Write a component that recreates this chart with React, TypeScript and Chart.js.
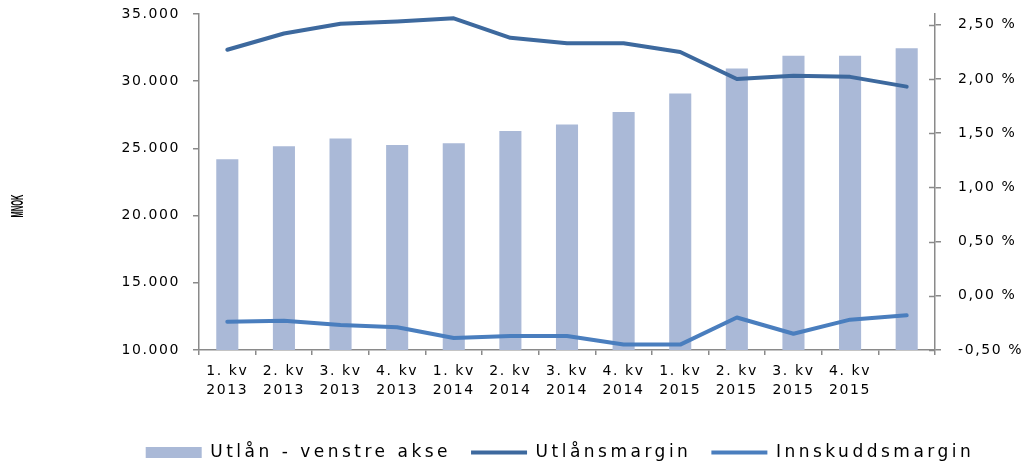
import { useEffect, useRef } from 'react';
import { Chart, registerables } from 'chart.js';

Chart.register(...registerables);

// ---------- data ----------
const categories: (string | string[])[] = [
  ['1. kv', '2013'], ['2. kv', '2013'], ['3. kv', '2013'], ['4. kv', '2013'],
  ['1. kv', '2014'], ['2. kv', '2014'], ['3. kv', '2014'], ['4. kv', '2014'],
  ['1. kv', '2015'], ['2. kv', '2015'], ['3. kv', '2015'], ['4. kv', '2015'],
  '',
];
const seriesNames = ['Utlån - venstre akse', 'Utlånsmargin', 'Innskuddsmargin'];
const utlan = [24190, 25160, 25730, 25250, 25380, 26290, 26770, 27700, 29090, 30950, 31890, 31890, 32460];
const utlansmargin = [2.27, 2.42, 2.51, 2.53, 2.56, 2.38, 2.33, 2.33, 2.25, 2.0, 2.03, 2.02, 1.93];
const innskuddsmargin = [-0.24, -0.23, -0.27, -0.29, -0.39, -0.37, -0.37, -0.45, -0.45, -0.2, -0.35, -0.22, -0.18];
const leftTicks = [10000, 15000, 20000, 25000, 30000, 35000];
const rightTicks = [-0.5, 0, 0.5, 1, 1.5, 2, 2.5];
const leftTitle = 'MNOK';

// ---------- styles ----------
const BAR = '#AAB9D7';
const DARK = '#3D699E';
const LIGHT = '#4A7EBE';
const AXIS = '#8A8A8A';
const FAMILY = '"DejaVu Sans", sans-serif';

const fmtLeft = (v: number) => String(Math.round(v)).replace(/\B(?=(\d{3})+(?!\d))/g, '.');
const fmtRight = (v: number) => {
  const x = Math.abs(v) < 1e-9 ? 0 : v;
  return x.toFixed(2).replace('.', ',') + ' %';
};

const zeroPad = (s: any) => {
  s.paddingTop = 0;
  s.paddingBottom = 0;
  s.paddingLeft = 0;
  s.paddingRight = 0;
};

const extras = {
  id: 'extras',
  beforeDraw(chart: any) {
    chart.ctx.letterSpacing = '1.6px';
  },
  afterDraw(chart: any) {
    const ctx = chart.ctx;
    const y1 = chart.scales.y1;
    ctx.save();
    ctx.strokeStyle = AXIS;
    ctx.lineWidth = 1.5;
    y1.ticks.forEach((t: any) => {
      const py = Math.round(y1.getPixelForValue(t.value)) + 0.5;
      ctx.beginPath();
      ctx.moveTo(y1.left - 6, py);
      ctx.lineTo(y1.left, py);
      ctx.stroke();
    });
    ctx.letterSpacing = '0px';
    ctx.font = 'bold 16px "Liberation Sans", "DejaVu Sans", sans-serif';
    ctx.fillStyle = '#000';
    ctx.textAlign = 'center';
    ctx.textBaseline = 'middle';
    const w = ctx.measureText(leftTitle).width;
    ctx.translate(18.5, 206);
    ctx.rotate(-Math.PI / 2);
    ctx.scale(23 / w, 1);
    ctx.fillText(leftTitle, 0, 0);
    ctx.restore();
  },
};

export default function App() {
  const ref = useRef<HTMLCanvasElement>(null);
  useEffect(() => {
    const chart = new Chart(ref.current as HTMLCanvasElement, {
      type: 'bar',
      data: {
        labels: categories as any,
        datasets: [
          {
            type: 'bar',
            label: seriesNames[0],
            data: utlan,
            backgroundColor: BAR,
            borderWidth: 0,
            yAxisID: 'y',
            order: 3,
            barPercentage: 0.39,
            categoryPercentage: 1,
            pointStyle: 'rect',
          } as any,
          {
            type: 'line',
            label: seriesNames[1],
            data: utlansmargin,
            borderColor: DARK,
            backgroundColor: DARK,
            borderWidth: 4,
            pointRadius: 0,
            pointHoverRadius: 0,
            tension: 0,
            borderCapStyle: 'round',
            borderJoinStyle: 'round',
            yAxisID: 'y1',
            order: 1,
            pointStyle: 'line',
          } as any,
          {
            type: 'line',
            label: seriesNames[2],
            data: innskuddsmargin,
            borderColor: LIGHT,
            backgroundColor: LIGHT,
            borderWidth: 4,
            pointRadius: 0,
            pointHoverRadius: 0,
            tension: 0,
            borderCapStyle: 'round',
            borderJoinStyle: 'round',
            yAxisID: 'y1',
            order: 2,
            pointStyle: 'line',
          } as any,
        ],
      },
      options: {
        responsive: false,
        animation: false,
        devicePixelRatio: 1,
        font: { family: FAMILY },
        color: '#000',
        layout: { padding: { left: 96, right: 0, top: 14, bottom: -5 } },
        plugins: {
          tooltip: { enabled: false },
          legend: {
            position: 'bottom',
            align: 'center',
            labels: {
              usePointStyle: true,
              pointStyleWidth: 56,
              boxHeight: 11,
              padding: 20,
              color: '#000',
              font: { size: 17, family: FAMILY },
              sort: (a: any, b: any) => a.datasetIndex - b.datasetIndex,
            },
          },
        },
        scales: {
          x: {
            offset: true,
            grid: {
              display: true,
              drawOnChartArea: false,
              drawTicks: true,
              tickLength: 5,
              color: AXIS,
              lineWidth: 1.5,
              offset: true,
            },
            border: { display: true, color: AXIS, width: 1.5 },
            ticks: {
              autoSkip: false,
              maxRotation: 0,
              minRotation: 0,
              padding: 7,
              color: '#000',
              font: { size: 14, family: FAMILY, lineHeight: 1.36 },
            },
            afterFit(s: any) {
              s.height = 74;
              zeroPad(s);
            },
          },
          y: {
            position: 'left',
            min: 10000,
            max: 35000,
            grid: { drawOnChartArea: false, tickLength: 6, color: AXIS, lineWidth: 1.5 },
            border: { display: true, color: AXIS, width: 1.5 },
            ticks: {
              padding: 13,
              color: '#000',
              font: { size: 14, family: FAMILY },
              callback: (v: any) => fmtLeft(Number(v)),
            },
            afterBuildTicks(s: any) {
              s.ticks = leftTicks.map((v) => ({ value: v }));
            },
            afterFit(s: any) {
              s.width = 103;
              zeroPad(s);
            },
          },
          y1: {
            position: 'right',
            min: -0.5,
            max: 2.6,
            grid: { drawOnChartArea: false, tickLength: 6, color: AXIS, lineWidth: 1.5 },
            border: { display: true, color: AXIS, width: 1.5 },
            ticks: {
              padding: 17,
              color: '#000',
              font: { size: 14, family: FAMILY },
              callback: (v: any) => fmtRight(Number(v)),
            },
            afterBuildTicks(s: any) {
              s.ticks = rightTicks.map((v) => ({ value: v }));
            },
            afterFit(s: any) {
              s.width = 89;
              zeroPad(s);
            },
          },
        },
      } as any,
      plugins: [extras],
    });

    const lg: any = (chart as any).legend;
    if (lg) {
      const origDraw = lg.draw.bind(lg);
      const origFit = lg.fit.bind(lg);
      const withSpacing = (fn: any) => (...args: any[]) => {
        const c: any = chart.ctx;
        const prev = c.letterSpacing;
        c.letterSpacing = '3.5px';
        const r = fn(...args);
        c.letterSpacing = prev;
        return r;
      };
      lg.draw = withSpacing(origDraw);
      lg.fit = withSpacing(origFit);
      chart.update();
    }

    return () => chart.destroy();
  }, []);

  return (
    <div style={{ position: 'fixed', left: 0, top: 0, width: 1024, height: 466, background: '#fff' }}>
      <canvas ref={ref} width={1024} height={466} style={{ display: 'block' }} />
    </div>
  );
}
